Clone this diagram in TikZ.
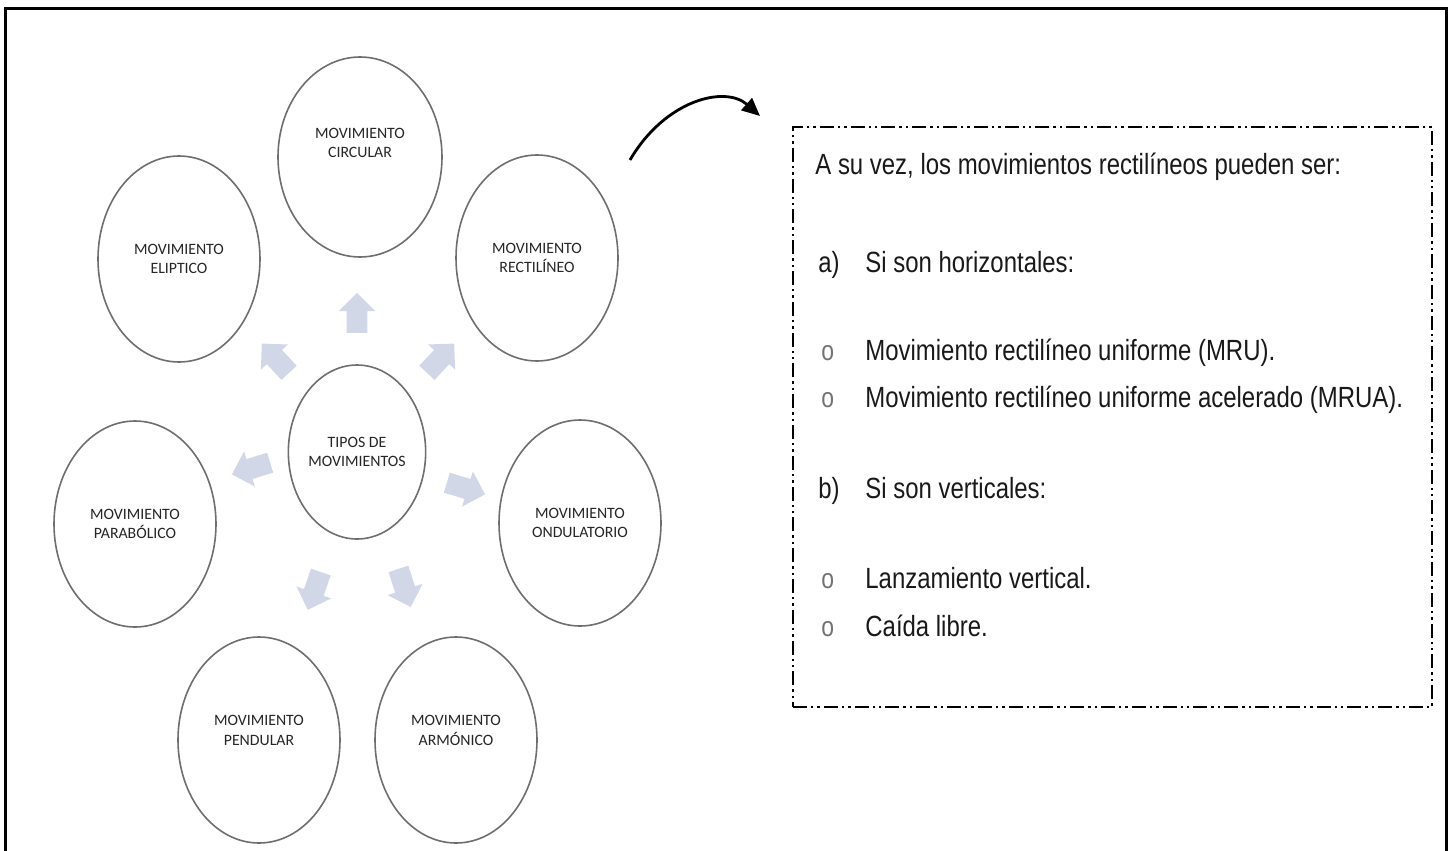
\documentclass[tikz,border=0pt]{standalone}
\usepackage{fontspec}
\setmainfont{Liberation Sans}
\newfontfamily\boxfont[FakeStretch=0.82]{Liberation Sans}
\newfontfamily\circfont{Carlito}
\usetikzlibrary{shapes.geometric, shapes.arrows, arrows.meta}
\definecolor{arrfill}{RGB}{210,215,232}
\definecolor{ringgray}{RGB}{110,110,110}

\begin{document}
\begin{tikzpicture}
	[x=0.5pt, y=-0.5pt,
	 mov/.style={ellipse, draw=ringgray, line width=0.8pt, fill=white,
	   minimum width=81pt, minimum height=103pt, inner sep=0pt, align=center,
	   text=black!85, font=\circfont\fontsize{7.9}{9.6}\selectfont},
	 blockarr/.style={single arrow, fill=arrfill, draw=none, inner xsep=0pt, inner ysep=5pt,
	   minimum height=20pt, single arrow head extend=4pt},
	 infobox/.style={draw, line width=1.4pt, minimum width=319.5pt, minimum height=290pt,
	   dash pattern=on 7pt off 2pt on 1.2pt off 2pt on 1.2pt off 2pt},
	 boxtext/.style={anchor=base west, inner sep=0pt, text=black!90, font=\boxfont\fontsize{14.6}{16}\selectfont},
	 bullet/.style={anchor=base west, inner sep=0pt, text=black!55, font=\boxfont\fontsize{14}{16}\selectfont}]
   \useasboundingbox (0,0) rectangle (1451,851);
   % outer frame
   \draw[line width=1.5pt] (5,851) -- (5,8) -- (1446,8) -- (1446,851);

   % central node and the seven kinds of motion
   \node[mov, minimum width=65pt, minimum height=87pt] (tipos) at (357,452) {TIPOS DE\\MOVIMIENTOS};
   \node[mov, minimum width=82pt, minimum height=100pt] (circ) at (360,157) {MOVIMIENTO\\CIRCULAR\\[4.4pt]};
   \node[mov] (recti) at (537,258) {MOVIMIENTO\\RECTIL\'INEO};
   \node[mov] (elip)  at (179,259) {MOVIMIENTO\\ELIPTICO};
   \node[mov] (parab) at (135,524) {MOVIMIENTO\\PARAB\'OLICO};
   \node[mov] (ondul) at (580,523) {MOVIMIENTO\\ONDULATORIO};
   \node[mov] (pend)  at (259,740) {MOVIMIENTO\\PENDULAR\\[0pt]};
   \node[mov] (armon) at (456,740) {MOVIMIENTO\\ARM\'ONICO\\[0pt]};

   % small block arrows round the centre
   \node[blockarr, rotate=90]  (ar_c) at (357,318) {};
   \node[blockarr, rotate=133] (ar_e) at (279,362) {};
   \node[blockarr, rotate=47]  (ar_r) at (437,362) {};
   \node[blockarr, rotate=197] (ar_p) at (256,467) {};
   \node[blockarr, rotate=-17] (ar_o) at (461,487) {};
   \node[blockarr, rotate=251] (ar_d) at (316,586) {};
   \node[blockarr, rotate=288] (ar_a) at (403,583) {};

   % curved pointer to the box
   \coordinate (ptrS) at (630,160);
   \coordinate (ptrE) at (760,116);
   \draw[line width=1.4pt, -{Triangle[length=9pt, width=8pt]}]
     (ptrS) .. controls (665,100) and (725,85) .. (ptrE);

   % dash-dot box with the list
   \node[infobox] (box) at (1112.5,417) {};
   \node[boxtext] (t0) at (815,174) {A su vez, los movimientos rectil\'ineos pueden ser:};
   \node[boxtext] (la) at (818,272) {a)};
   \node[boxtext] (ta) at (865,272) {Si son horizontales:};
   \node[bullet]  (o1) at (821,360) {o};
   \node[boxtext] (t1) at (865,360) {Movimiento rectil\'ineo uniforme (MRU).};
   \node[bullet]  (o2) at (821,407) {o};
   \node[boxtext] (t2) at (865,407) {Movimiento rectil\'ineo uniforme acelerado (MRUA).};
   \node[boxtext] (lb) at (818,498) {b)};
   \node[boxtext] (tb) at (865,498) {Si son verticales:};
   \node[bullet]  (o3) at (821,588) {o};
   \node[boxtext] (t3) at (865,588) {Lanzamiento vertical.};
   \node[bullet]  (o4) at (821,636) {o};
   \node[boxtext] (t4) at (865,636) {Ca\'ida libre.};
\end{tikzpicture}
\end{document}
